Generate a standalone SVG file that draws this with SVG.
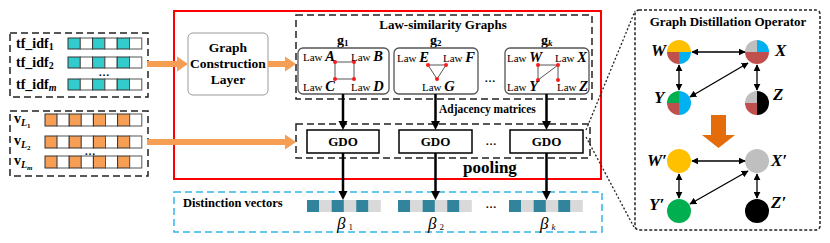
<svg xmlns="http://www.w3.org/2000/svg" width="830" height="243" viewBox="0 0 830 243">
<defs>
<style>
.sf{font-family:"Liberation Serif","Times New Roman",serif;}
.b{font-weight:bold;}
.dash{fill:none;stroke:#222;stroke-width:1.5;stroke-dasharray:7 4;}
.tc{fill:#33CCCC;stroke:#333;stroke-width:1;}
.wc{fill:#fff;stroke:#555;stroke-width:1;}
.oc{fill:#F79E55;stroke:#333;stroke-width:1;}
.dk{fill:#31849B;}
.lg{fill:#D9D9D9;}
.gbox{fill:#fff;stroke:#555;stroke-width:1.3;}
.edge{stroke:#555;stroke-width:1;}
.rd{fill:#FF1A1A;}
.law{font-family:"Liberation Serif","Times New Roman",serif;font-size:11px;}
.lv{font-size:14.5px;font-weight:bold;font-style:italic;}
.blk{stroke:#000;stroke-width:2.5;fill:none;}
.thin{stroke:#000;stroke-width:1.3;fill:none;}
.gdo{fill:#fff;stroke:#000;stroke-width:1.5;}
.nl{font-family:"Liberation Serif","Times New Roman",serif;font-size:17px;font-weight:bold;font-style:italic;}
.orng{fill:#F79E55;}
.dots{font-family:"Liberation Serif","Times New Roman",serif;font-size:11px;font-weight:bold;text-anchor:middle;}
</style>
<marker id="ah" viewBox="0 0 10 10" refX="5" refY="5" markerWidth="9" markerHeight="10" markerUnits="userSpaceOnUse" orient="auto"><path d="M0,0 L10,5 L0,10 z" fill="#000"/></marker>
<marker id="sa" viewBox="0 0 10 10" refX="9" refY="5" markerWidth="7" markerHeight="7" markerUnits="userSpaceOnUse" orient="auto-start-reverse"><path d="M0,0 L10,5 L0,10 z" fill="#000"/></marker>
</defs>
<rect width="830" height="243" fill="#fff"/>

<!-- left tf_idf box -->
<g id="tfidf">
<rect class="dash" x="10" y="33" width="138" height="64"/>
<g>
<rect class="tc" x="68" y="38" width="12.3" height="11"/><rect class="wc" x="80.3" y="38" width="12.3" height="11"/><rect class="tc" x="92.6" y="38" width="12.3" height="11"/><rect class="wc" x="104.9" y="38" width="12.3" height="11"/><rect class="tc" x="117.2" y="38" width="12.3" height="11"/><rect class="wc" x="129.5" y="38" width="12.3" height="11"/>
<rect class="tc" x="68" y="57" width="12.3" height="11"/><rect class="wc" x="80.3" y="57" width="12.3" height="11"/><rect class="tc" x="92.6" y="57" width="12.3" height="11"/><rect class="wc" x="104.9" y="57" width="12.3" height="11"/><rect class="tc" x="117.2" y="57" width="12.3" height="11"/><rect class="wc" x="129.5" y="57" width="12.3" height="11"/>
<rect class="tc" x="68" y="79" width="12.3" height="11"/><rect class="wc" x="80.3" y="79" width="12.3" height="11"/><rect class="tc" x="92.6" y="79" width="12.3" height="11"/><rect class="wc" x="104.9" y="79" width="12.3" height="11"/><rect class="tc" x="117.2" y="79" width="12.3" height="11"/><rect class="wc" x="129.5" y="79" width="12.3" height="11"/>
</g>
<text class="sf b" x="16" y="48" font-size="14">tf_idf<tspan font-size="10" dy="2">1</tspan></text>
<text class="sf b" x="16" y="67" font-size="14">tf_idf<tspan font-size="10" dy="2">2</tspan></text>
<text class="dots" x="104" y="76">…</text>
<text class="sf b" x="16" y="89" font-size="14">tf_idf<tspan font-size="10" font-style="italic" dy="2">m</tspan></text>
</g>

<!-- left v_L box -->
<g id="vL">
<rect class="dash" x="10" y="111" width="138" height="65"/>
<g>
<rect class="oc" x="45" y="114" width="12.1" height="12"/><rect class="wc" x="57.1" y="114" width="12.1" height="12"/><rect class="oc" x="69.2" y="114" width="12.1" height="12"/><rect class="wc" x="81.3" y="114" width="12.1" height="12"/><rect class="oc" x="93.4" y="114" width="12.1" height="12"/><rect class="wc" x="105.5" y="114" width="12.1" height="12"/><rect class="oc" x="117.6" y="114" width="12.1" height="12"/><rect class="wc" x="129.7" y="114" width="12.1" height="12"/>
<rect class="oc" x="45" y="136" width="12.1" height="12"/><rect class="wc" x="57.1" y="136" width="12.1" height="12"/><rect class="oc" x="69.2" y="136" width="12.1" height="12"/><rect class="wc" x="81.3" y="136" width="12.1" height="12"/><rect class="oc" x="93.4" y="136" width="12.1" height="12"/><rect class="wc" x="105.5" y="136" width="12.1" height="12"/><rect class="oc" x="117.6" y="136" width="12.1" height="12"/><rect class="wc" x="129.7" y="136" width="12.1" height="12"/>
<rect class="oc" x="45" y="156" width="12.1" height="12"/><rect class="wc" x="57.1" y="156" width="12.1" height="12"/><rect class="oc" x="69.2" y="156" width="12.1" height="12"/><rect class="wc" x="81.3" y="156" width="12.1" height="12"/><rect class="oc" x="93.4" y="156" width="12.1" height="12"/><rect class="wc" x="105.5" y="156" width="12.1" height="12"/><rect class="oc" x="117.6" y="156" width="12.1" height="12"/><rect class="wc" x="129.7" y="156" width="12.1" height="12"/>
</g>
<text class="sf b" x="14" y="123" font-size="14">v<tspan font-size="10" font-style="italic" dy="3">L</tspan><tspan font-size="7" dy="2">1</tspan></text>
<text class="sf b" x="14" y="145" font-size="14">v<tspan font-size="10" font-style="italic" dy="3">L</tspan><tspan font-size="7" dy="2">2</tspan></text>
<text class="dots" x="90" y="154.5">…</text>
<text class="sf b" x="14" y="165" font-size="14">v<tspan font-size="10" font-style="italic" dy="3">L</tspan><tspan font-size="7" font-style="italic" dy="2">m</tspan></text>
</g>

<!-- red frame -->
<rect id="frame" x="174" y="11" width="427" height="168" fill="none" stroke="#FF0000" stroke-width="2"/>

<!-- Graph construction layer -->
<g id="gcl">
<rect x="188" y="33" width="80" height="62" rx="5" fill="#fff" stroke="#9a9a9a" stroke-width="1"/>
<text class="sf b" x="228" y="52" font-size="13.5" text-anchor="middle">Graph</text>
<text class="sf b" x="228" y="68" font-size="13.5" text-anchor="middle">Construction</text>
<text class="sf b" x="228" y="84" font-size="13.5" text-anchor="middle">Layer</text>
</g>

<!-- Law-similarity graphs -->
<g id="lawgraphs">
<rect class="dash" x="296" y="15" width="296" height="84"/>
<text class="sf b" x="443" y="28.5" font-size="13" text-anchor="middle">Law-similarity Graphs</text>
<text class="sf b" x="337" y="44.5" font-size="14">g<tspan font-size="9" dy="1.5">1</tspan></text>
<text class="sf b" x="430" y="44.5" font-size="14">g<tspan font-size="9" dy="1.5">2</tspan></text>
<text class="sf b" x="541" y="44.5" font-size="14">g<tspan font-size="9" font-style="italic" dy="1.5">k</tspan></text>
<text class="dots" x="490" y="82">…</text>
</g>

<g id="g1">
<rect class="gbox" x="298" y="48" width="91" height="46" rx="5"/>
<path class="edge" d="M335,62 H354 V79 H335 Z" fill="none"/>
<circle class="rd" cx="335" cy="62" r="2"/><circle class="rd" cx="354" cy="62" r="2"/><circle class="rd" cx="335" cy="79" r="2"/><circle class="rd" cx="354" cy="79" r="2"/>
<text class="law" x="303" y="61">Law <tspan class="lv">A</tspan></text>
<text class="law" x="351" y="61">Law <tspan class="lv">B</tspan></text>
<text class="law" x="303" y="91">Law <tspan class="lv">C</tspan></text>
<text class="law" x="351" y="91">Law <tspan class="lv">D</tspan></text>
</g>

<g id="g2">
<rect class="gbox" x="394" y="48" width="84" height="46" rx="5"/>
<path class="edge" d="M428,65 L446,65 L437,79 Z" fill="none"/>
<circle class="rd" cx="428" cy="65" r="2"/><circle class="rd" cx="446" cy="65" r="2"/><circle class="rd" cx="437" cy="79" r="2"/>
<text class="law" x="397" y="62">Law <tspan class="lv">E</tspan></text>
<text class="law" x="443" y="62">Law <tspan class="lv">F</tspan></text>
<text class="law" x="422" y="91">Law <tspan class="lv">G</tspan></text>
</g>

<g id="gk">
<rect class="gbox" x="505" y="48" width="84" height="46" rx="5"/>
<path class="edge" d="M538,65 L558,65 M538,65 L538,80 M538,80 L558,65 M558,65 L558,80" fill="none"/>
<circle class="rd" cx="538" cy="65" r="2"/><circle class="rd" cx="558" cy="65" r="2"/><circle class="rd" cx="538" cy="80" r="2"/><circle class="rd" cx="558" cy="80" r="2"/>
<text class="law" x="507" y="62">Law <tspan class="lv">W</tspan></text>
<text class="law" x="555" y="62">Law <tspan class="lv">X</tspan></text>
<text class="law" x="507" y="91">Law <tspan class="lv">Y</tspan></text>
<text class="law" x="557" y="91">Law <tspan class="lv">Z</tspan></text>
</g>

<!-- GDO row -->
<g id="gdorow">
<rect class="dash" x="296" y="124" width="294" height="34"/>
<text class="dots" x="491" y="145">…</text>
<text class="sf b" x="439" y="113" font-size="11.5">Adjacency matrices</text>
<text class="sf b" x="463" y="173" font-size="17">pooling</text>
</g>
<g id="gdo1"><rect class="gdo" x="307" y="130" width="72" height="23"/><text class="sf b" x="343" y="146" font-size="13" text-anchor="middle">GDO</text></g>
<g id="gdo2"><rect class="gdo" x="399" y="130" width="73" height="23"/><text class="sf b" x="435.5" y="146" font-size="13" text-anchor="middle">GDO</text></g>
<g id="gdo3"><rect class="gdo" x="510" y="130" width="73" height="23"/><text class="sf b" x="546.5" y="146" font-size="13" text-anchor="middle">GDO</text></g>

<!-- Distinction vectors -->
<g id="distinction">
<rect x="174" y="192" width="428" height="40" fill="none" stroke="#33B5E5" stroke-width="1.5" stroke-dasharray="7 4"/>
<text class="sf b" x="183" y="207" font-size="12.5">Distinction vectors</text>
<g>
<rect class="dk" x="307" y="200" width="12.3" height="12"/><rect class="lg" x="319.3" y="200" width="12.3" height="12"/><rect class="dk" x="331.6" y="200" width="12.3" height="12"/><rect class="lg" x="343.9" y="200" width="12.3" height="12"/><rect class="dk" x="356.2" y="200" width="12.3" height="12"/><rect class="lg" x="368.5" y="200" width="12.3" height="12"/>
<rect class="dk" x="398" y="200" width="12.3" height="12"/><rect class="lg" x="410.3" y="200" width="12.3" height="12"/><rect class="dk" x="422.6" y="200" width="12.3" height="12"/><rect class="lg" x="434.9" y="200" width="12.3" height="12"/><rect class="dk" x="447.2" y="200" width="12.3" height="12"/><rect class="lg" x="459.5" y="200" width="12.3" height="12"/>
<rect class="dk" x="509" y="200" width="12.3" height="12"/><rect class="lg" x="521.3" y="200" width="12.3" height="12"/><rect class="dk" x="533.6" y="200" width="12.3" height="12"/><rect class="lg" x="545.9" y="200" width="12.3" height="12"/><rect class="dk" x="558.2" y="200" width="12.3" height="12"/><rect class="lg" x="570.5" y="200" width="12.3" height="12"/>
</g>
<text class="dots" x="491" y="208">…</text>
<text class="sf" x="337" y="229" font-size="17" font-style="italic">β<tspan font-size="9" font-style="normal" dy="1" dx="3">1</tspan></text>
<text class="sf" x="428" y="229" font-size="17" font-style="italic">β<tspan font-size="9" font-style="normal" dy="1" dx="3">2</tspan></text>
<text class="sf" x="540" y="229" font-size="17" font-style="italic">β<tspan font-size="9" dy="1" dx="3">k</tspan></text>
</g>

<!-- Graph Distillation Operator panel -->
<g id="gdopanel">
<rect x="635" y="10" width="185" height="220" rx="4" fill="none" stroke="#222" stroke-width="1.5" stroke-dasharray="3 2"/>
<text class="sf b" x="728" y="26" font-size="13" text-anchor="middle">Graph Distillation Operator</text>
<polygon fill="#E46C0A" points="711,115 726,115 726,135 735,135 718.5,148 702,135 711,135"/>
</g>

<g id="nodeW" transform="translate(679,52)">
<path d="M-12,0 A12,12 0 0 1 12,0 Z" fill="#FFC000"/>
<path d="M0,0 L-12,0 A12,12 0 0 0 0,12 Z" fill="#C0504D"/>
<path d="M0,0 L0,12 A12,12 0 0 0 12,0 Z" fill="#00B0F0"/>
<text class="nl" x="-28" y="4">W</text>
</g>
<g id="nodeX" transform="translate(757,52)">
<path d="M0,0 L-12,0 A12,12 0 0 1 0,-12 Z" fill="#BFBFBF"/>
<path d="M0,0 L0,-12 A12,12 0 0 1 12,0 Z" fill="#00B0F0"/>
<path d="M12,0 A12,12 0 0 1 -12,0 Z" fill="#C0504D"/>
<text class="nl" x="18" y="4">X</text>
</g>
<g id="nodeY" transform="translate(679,103)">
<path d="M0,0 L-12,0 A12,12 0 0 1 0,-12 Z" fill="#00B050"/>
<path d="M0,-12 A12,12 0 0 1 0,12 Z" fill="#00B0F0"/>
<path d="M0,0 L-12,0 A12,12 0 0 0 0,12 Z" fill="#C0504D"/>
<text class="nl" x="-25" y="0">Y</text>
</g>
<g id="nodeZ" transform="translate(757,103)">
<path d="M0,0 L-12,0 A12,12 0 0 1 0,-12 Z" fill="#BFBFBF"/>
<path d="M0,-12 A12,12 0 0 1 0,12 Z" fill="#000"/>
<path d="M0,0 L-12,0 A12,12 0 0 0 0,12 Z" fill="#C0504D"/>
<text class="nl" x="16" y="-3">Z</text>
</g>
<g id="nodeW2"><circle cx="679" cy="161" r="12" fill="#FFC000"/><text class="nl" x="647" y="166">W′</text></g>
<g id="nodeX2"><circle cx="757" cy="161" r="12" fill="#BFBFBF"/><text class="nl" x="771" y="166">X′</text></g>
<g id="nodeY2"><circle cx="679" cy="211" r="12" fill="#00B050"/><text class="nl" x="649" y="210">Y′</text></g>
<g id="nodeZ2"><circle cx="757" cy="211" r="12" fill="#000"/><text class="nl" x="771" y="208">Z′</text></g>

<!-- connectors -->
<g id="connectors">
<line x1="147" y1="64" x2="179" y2="64" stroke="#F79E55" stroke-width="6"/>
<polygon class="orng" points="177,56.5 188,64 177,71.5"/>
<line x1="268" y1="64" x2="287" y2="64" stroke="#F79E55" stroke-width="6"/>
<polygon class="orng" points="285,56.5 296,64 285,71.5"/>
<line x1="147" y1="142" x2="287" y2="142" stroke="#F79E55" stroke-width="6"/>
<polygon class="orng" points="285,134.5 296,142 285,149.5"/>
<line class="blk" x1="343" y1="94" x2="343" y2="125.5" marker-end="url(#ah)"/>
<line class="blk" x1="435.5" y1="94" x2="435.5" y2="125.5" marker-end="url(#ah)"/>
<line class="blk" x1="546.5" y1="94" x2="546.5" y2="125.5" marker-end="url(#ah)"/>
<line class="blk" x1="343" y1="153" x2="343" y2="195.5" marker-end="url(#ah)"/>
<line class="blk" x1="435.5" y1="153" x2="435.5" y2="195.5" marker-end="url(#ah)"/>
<line class="blk" x1="546.5" y1="153" x2="546.5" y2="195.5" marker-end="url(#ah)"/>
<line x1="586" y1="130" x2="635" y2="11" stroke="#222" stroke-width="1.3" stroke-dasharray="2 2"/>
<line x1="586" y1="137" x2="635" y2="229" stroke="#222" stroke-width="1.3" stroke-dasharray="2 2"/>
<line class="thin" x1="692" y1="52" x2="745" y2="52" marker-start="url(#sa)" marker-end="url(#sa)"/>
<line class="thin" x1="679" y1="65" x2="679" y2="90" marker-start="url(#sa)" marker-end="url(#sa)"/>
<line class="thin" x1="748" y1="63" x2="690" y2="97" marker-start="url(#sa)" marker-end="url(#sa)"/>
<line class="thin" x1="757" y1="65" x2="757" y2="90" marker-start="url(#sa)" marker-end="url(#sa)"/>
<line class="thin" x1="692" y1="161" x2="745" y2="161" marker-start="url(#sa)" marker-end="url(#sa)"/>
<line class="thin" x1="679" y1="174" x2="679" y2="198" marker-start="url(#sa)" marker-end="url(#sa)"/>
<line class="thin" x1="748" y1="171" x2="690" y2="204" marker-start="url(#sa)" marker-end="url(#sa)"/>
<line class="thin" x1="757" y1="174" x2="757" y2="198" marker-start="url(#sa)" marker-end="url(#sa)"/>
</g>
</svg>
